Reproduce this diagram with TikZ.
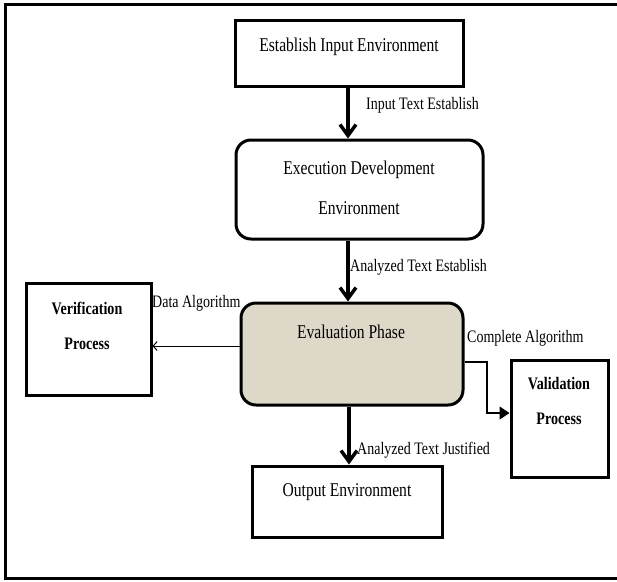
\documentclass[tikz,border=0pt]{standalone}
\usepackage{fontspec}
\setmainfont{Liberation Serif}[FakeStretch=0.8]
\usepackage{tikz}
\usetikzlibrary{arrows.meta,positioning,calc}
\definecolor{evalBeige}{HTML}{DED8C8}
\definecolor{ink}{HTML}{000000}
\begin{document}
\begin{tikzpicture}[x=1pt,y=-1pt,
  box/.style={draw=ink,line width=3pt,minimum width=#1},
  rbox/.style={box=#1,rounded corners=15pt},
  boxtxt/.style={align=center,font=\fontsize{19.5}{40}\selectfont},
  boldtxt/.style={align=center,font=\fontsize{17.6}{35}\selectfont\bfseries},
  lbl/.style={anchor=west,inner sep=0pt,font=\fontsize{17.5}{20}\selectfont},
  flow/.style={line width=3.5pt,-{Straight Barb[length=11pt,width=16pt]}}]
\useasboundingbox (0,0) rectangle (617,581);
% frame
\draw[line width=3pt] (617,4) -- (5,4) -- (5,578) -- (617,578);
% main column
\node[box=228pt,minimum height=66pt] (est) at (349,53) {};
\node[boxtxt] (estT) at (349,47) {Establish Input Environment};
\node[rbox=247pt,minimum height=99pt] (exe) at (359.5,189.5) {};
\node[boxtxt] (exeT) at (359,188) {Execution Development\\Environment};
\node[rbox=222pt,minimum height=102pt,fill=evalBeige] (eva) at (352,354) {};
\node[boxtxt] (evaT) at (351,332) {Evaluation Phase};
\node[box=190pt,minimum height=71pt] (out) at (347,501.5) {};
\node[boxtxt] (outT) at (347,492) {Output Environment};
% side boxes
\node[box=125pt,minimum height=112pt] (ver) at (88.5,339) {};
\node[boldtxt] (verT) at (87,325.5) {Verification\\Process};
\node[box=97pt,minimum height=117pt] (val) at (559.5,418.5) {};
\node[boldtxt] (valT) at (559,400.5) {Validation\\Process};
% connectors
\draw[flow] (est.south -| 348,0) -- (exe.north -| 348,0);
\draw[flow] (exe.south -| 348,0) -- (eva.north -| 348,0);
\draw[flow] (eva.south -| 349,0) -- (out.north -| 349,0);
\draw[line width=1pt,-{Straight Barb[length=4pt,width=9pt]}] ([yshift=8pt]eva.west) -- ([yshift=8pt]eva.west -| ver.east);
\coordinate (bend) at (487,413);
\draw[line width=1.2pt,-{Triangle[length=10pt,width=13pt]}] ([yshift=-8pt]eva.east) -| (bend) -- (bend -| val.west);
% labels
\node[lbl] (l1) at (366,105) {Input Text Establish};
\node[lbl] (l2) at (350,267) {Analyzed Text Establish};
\node[lbl] (l3) at (152,303) {Data Algorithm};
\node[lbl] (l4) at (467,338) {Complete Algorithm};
\node[lbl] (l5) at (357,450) {Analyzed Text Justified};
\end{tikzpicture}
\end{document}
